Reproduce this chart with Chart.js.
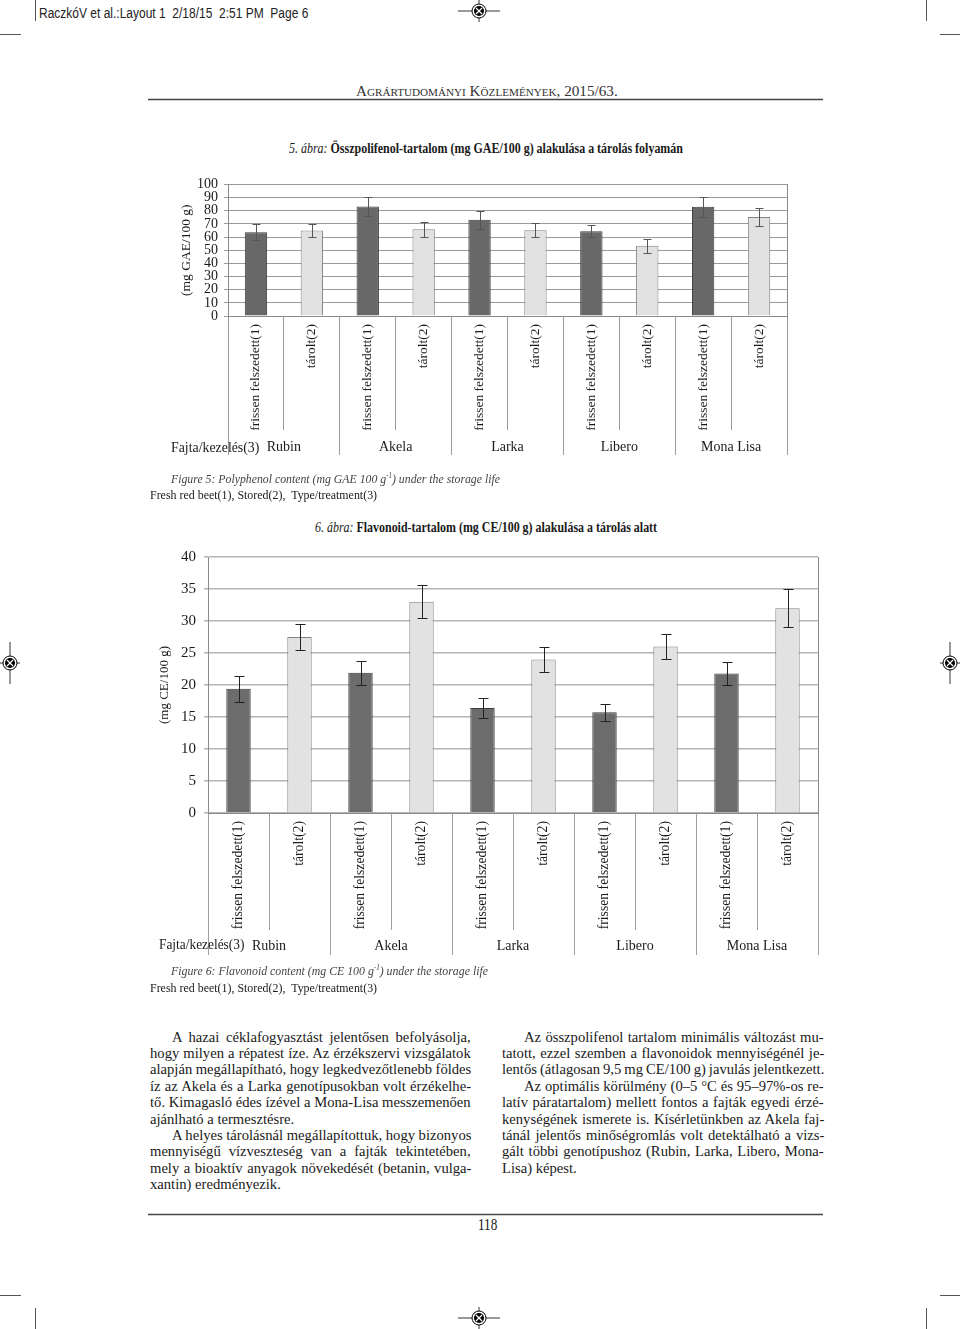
<!DOCTYPE html>
<html><head><meta charset="utf-8">
<script src="https://cdn.jsdelivr.net/npm/chart.js@4.4.0/dist/chart.umd.min.js"></script>
<style>
html,body{margin:0;padding:0;background:#fff;}
body{width:960px;height:1329px;position:relative;overflow:hidden;font-family:'Liberation Serif','Times New Roman',serif;color:#1a1a1a;}
.t{position:absolute;white-space:pre;line-height:1;transform-origin:0 50%;display:inline-block;}
.cv{position:absolute;}
svg{position:absolute;left:0;top:0;}
</style></head><body>
<svg width="960" height="1329" viewBox="0 0 960 1329" id="marks"></svg>
<canvas id="c1" class="cv" width="650" height="290" style="left:150px;top:170px"></canvas>
<canvas id="c2" class="cv" width="690" height="420" style="left:140px;top:540px"></canvas>
<script>
// ---------------- DATA ----------------
const varieties = ['Rubin', 'Akela', 'Larka', 'Libero', 'Mona Lisa'];
const treatments = ['frissen felszedett(1)', 'tárolt(2)'];
// Figure 5: polyphenol (mg GAE/100 g), order: Rubin fresh, Rubin stored, Akela fresh, ...
const polyphenolMean = [63.7, 64.9, 83.2, 65.9, 73.1, 65.2, 64.4, 53.3, 83.0, 75.3];
const polyphenolErr  = [5.9, 5.0, 7.2, 5.6, 6.8, 5.2, 4.5, 5.1, 7.8, 7.0];
const polyphenolTicks = [0, 10, 20, 30, 40, 50, 60, 70, 80, 90, 100];
// Figure 6: flavonoid (mg CE/100 g)
const flavonoidMean = [19.4, 27.5, 21.9, 33.0, 16.4, 24.0, 15.75, 26.0, 21.8, 32.0];
const flavonoidErr  = [2.0, 2.05, 1.9, 2.6, 1.5, 2.0, 1.35, 1.95, 1.85, 3.0];
const flavonoidTicks = [0, 5, 10, 15, 20, 25, 30, 35, 40];

// ---------------- marks / rules ----------------
(function(){
  const s = document.getElementById('marks');
  let h = '';
  const ln = (x1,y1,x2,y2,c,w)=>{h += `<line x1="${x1}" y1="${y1}" x2="${x2}" y2="${y2}" stroke="${c||'#000'}" stroke-width="${w||1}"/>`;};
  ln(35.5,0,35.5,21,'#555'); ln(0,34.5,21,34.5,'#555');
  ln(926.5,0,926.5,21,'#555'); ln(940,34.5,960,34.5,'#555');
  ln(35.5,1308,35.5,1329,'#555'); ln(0,1295.5,21,1295.5,'#555');
  ln(926.5,1308,926.5,1329,'#555'); ln(940,1295.5,960,1295.5,'#555');
  ln(148,99.5,823,99.5,'#444',1.5);
  ln(148,1214.5,823,1214.5,'#444',1.5);
  const reg = (cx,cy,hl,vl)=>{
    ln(cx-hl,cy,cx+hl,cy,'#000',0.8); ln(cx,cy-vl,cx,cy+vl,'#000',0.8);
    h += `<circle cx="${cx}" cy="${cy}" r="7" fill="#fff" stroke="#000" stroke-width="1"/>`;
    h += `<circle cx="${cx}" cy="${cy}" r="5" fill="#000"/>`;
    h += `<line x1="${cx-3}" y1="${cy-3}" x2="${cx+3}" y2="${cy+3}" stroke="#fff" stroke-width="1.2"/>`;
    h += `<line x1="${cx-3}" y1="${cy+3}" x2="${cx+3}" y2="${cy-3}" stroke="#fff" stroke-width="1.2"/>`;
  };
  reg(479,11,21,11); reg(479,1318,21,11); reg(10,663,10,21); reg(950,663,10,21);
  s.innerHTML = h;
})();

// ---------------- page texts ----------------
function addText(o){
  const e = document.createElement('span');
  e.className = 't';
  e.innerHTML = o.h;
  e.style.fontSize = (o.size||14)+'px';
  if (o.sans) e.style.fontFamily = "'Liberation Sans',Arial,sans-serif";
  if (o.sc) e.style.fontVariant = 'small-caps';
  if (o.color) e.style.color = o.color;
  document.body.appendChild(e);
  e.style.left = o.x1+'px';
  const hgt = e.offsetHeight;
  e.style.top = (o.y - hgt/2)+'px';
  const w = e.offsetWidth;
  e.style.transform = 'scaleX('+((o.x2-o.x1)/w)+')';
}
const texts = [
  {h:'RaczkóV et al.:Layout 1  2/18/15  2:51 PM  Page 6', x1:39, x2:308, y:13, size:14, sans:true, color:'#222'},
  {h:'Agrártudományi Közlemények, 2015/63.', x1:356, x2:618, y:91, size:15, sc:true, color:'#333'},
  {h:'<i>5. ábra:</i> <b>Összpolifenol-tartalom (mg GAE/100 g) alakulása a tárolás folyamán</b>', x1:289, x2:683, y:149, size:14},
  {h:'Fajta/kezelés(3)', x1:171, x2:259, y:448, size:14},
  {h:'<i>Figure 5: Polyphenol content (mg GAE 100 g<sup style="font-size:8px">-1</sup>) under the storage life</i>', x1:171, x2:500, y:478, size:13.5, color:'#444'},
  {h:'Fresh red beet(1), Stored(2),  Type/treatment(3)', x1:150, x2:377, y:495, size:13.5},
  {h:'<i>6. ábra:</i> <b>Flavonoid-tartalom (mg CE/100 g) alakulása a tárolás alatt</b>', x1:315, x2:657, y:528, size:14},
  {h:'Fajta/kezelés(3)', x1:159, x2:244, y:945, size:14},
  {h:'<i>Figure 6: Flavonoid content (mg CE 100 g<sup style="font-size:8px">-1</sup>) under the storage life</i>', x1:171, x2:488, y:970, size:13.5, color:'#444'},
  {h:'Fresh red beet(1), Stored(2),  Type/treatment(3)', x1:150, x2:377, y:988, size:13.5},
  {h:'118', x1:478, x2:497, y:1225, size:16},
];
texts.forEach(addText);

// body text: [text, indent, justify]
const bodyLeft = [
  ['A hazai céklafogyasztást jelentősen befolyásolja,',1,1],
  ['hogy milyen a répatest íze. Az érzékszervi vizsgálatok',0,1],
  ['alapján megállapítható, hogy legkedvezőtlenebb földes',0,1],
  ['íz az Akela és a Larka genotípusokban volt érzékelhe-',0,1],
  ['tő. Kimagasló édes ízével a Mona-Lisa messzemenően',0,1],
  ['ajánlható a termesztésre.',0,0],
  ['A helyes tárolásnál megállapítottuk, hogy bizonyos',1,1],
  ['mennyiségű vízveszteség van a fajták tekintetében,',0,1],
  ['mely a bioaktív anyagok növekedését (betanin, vulga-',0,1],
  ['xantin) eredményezik.',0,0],
];
const bodyRight = [
  ['Az összpolifenol tartalom minimális változást mu-',1,1],
  ['tatott, ezzel szemben a flavonoidok mennyiségénél je-',0,1],
  ['lentős (átlagosan 9,5 mg CE/100 g) javulás jelentkezett.',0,1],
  ['Az optimális körülmény (0–5 °C és 95–97%-os re-',1,1],
  ['latív páratartalom) mellett fontos a fajták egyedi érzé-',0,1],
  ['kenységének ismerete is. Kísérletünkben az Akela faj-',0,1],
  ['tánál jelentős minőségromlás volt detektálható a vizs-',0,1],
  ['gált többi genotípushoz (Rubin, Larka, Libero, Mona-',0,1],
  ['Lisa) képest.',0,0],
];
(function(){
  const cols = [{lines:bodyLeft, x1:150, x2:471}, {lines:bodyRight, x1:502, x2:824}];
  const items = [];
  cols.forEach(c=>c.lines.forEach((l,i)=>{
    const e = document.createElement('span');
    e.className='t'; e.textContent=l[0]; e.style.fontSize='15px';
    document.body.appendChild(e);
    const x1 = c.x1 + (l[1]?22:0);
    const y = 1037 + i*16.4;
    e.style.left = x1+'px';
    e.style.top = (y - e.offsetHeight/2)+'px';
    items.push({e, x1, x2:c.x2, just:l[2], w:e.offsetWidth, n:(l[0].match(/ /g)||[]).length});
  }));
  let tt=0, nn=0;
  items.forEach(it=>{ if(it.just){ tt += it.x2-it.x1; nn += it.w; } });
  const S = tt/nn*0.985;
  items.forEach(it=>{
    it.e.style.transform='scaleX('+S+')';
    if (it.just && it.n>0){
      const ws = ((it.x2-it.x1)/S - it.w)/it.n;
      it.e.style.wordSpacing = ws+'px';
    }
  });
})();

// ---------------- charts ----------------
Chart.defaults.font.family = "'Liberation Serif','Times New Roman',serif";
Chart.defaults.color = '#1a1a1a';
Chart.defaults.animation = false;

const categoryLabels = [];
varieties.forEach(v => treatments.forEach(t => categoryLabels.push(t)));
const freshOrStored = [];
varieties.forEach(v => treatments.forEach((t,j) => freshOrStored.push(j)));

const errorBars = {
  id: 'errorBars',
  afterDatasetsDraw(chart, args, opts) {
    const ctx = chart.ctx, ys = chart.scales.y;
    const meta = chart.getDatasetMeta(0);
    const data = chart.data.datasets[0].data;
    ctx.save();
    ctx.strokeStyle = opts.color; ctx.lineWidth = 1;
    meta.data.forEach((bar, i) => {
      const m = data[i], e = opts.errors[i];
      const x = Math.round(bar.x) + 0.5;
      const yt = Math.round(ys.getPixelForValue(m + e)) + 0.5;
      const yb = Math.round(ys.getPixelForValue(m - e)) + 0.5;
      ctx.beginPath();
      ctx.moveTo(x, yt); ctx.lineTo(x, yb);
      ctx.moveTo(x - opts.cap, yt); ctx.lineTo(x + opts.cap, yt);
      ctx.moveTo(x - opts.cap, yb); ctx.lineTo(x + opts.cap, yb);
      ctx.stroke();
    });
    ctx.restore();
  }
};

function makeChart(id, mean, err, ticks, c) {
  return new Chart(document.getElementById(id), {
    type: 'bar',
    data: {
      labels: categoryLabels,
      datasets: [{
        data: mean,
        backgroundColor: freshOrStored.map(k => k ? c.stored : c.fresh),
        borderColor: freshOrStored.map(k => k ? c.storedBorder : c.freshBorder),
        borderWidth: 1,
        barPercentage: 0.4,
        categoryPercentage: 1
      }]
    },
    options: {
      responsive: false,
      animation: false,
      events: [],
      layout: { padding: c.pad },
      plugins: {
        legend: { display: false },
        tooltip: { enabled: false },
        errorBars: { errors: err, color: c.errColor, cap: c.cap }
      },
      scales: {
        x: {
          type: 'category',
          position: 'bottom',
          weight: 0,
          offset: true,
          grid: { offset: true, drawOnChartArea: false, drawTicks: true, tickLength: c.xHeight, color: c.sepColor, lineWidth: 1 },
          border: { display: true, color: c.axisColor, width: 1 },
          ticks: { minRotation: 90, maxRotation: 90, autoSkip: false, padding: c.xPad, font: { size: c.xFont }, color: '#1a1a1a' },
          afterFit: s => { s.height = c.xHeight; }
        },
        xg: {
          type: 'category',
          position: 'bottom',
          weight: 1,
          labels: varieties,
          offset: true,
          grid: { offset: true, drawOnChartArea: false, drawTicks: true, tickLength: c.gHeight, color: c.sepColor, lineWidth: 1 },
          border: { display: false },
          ticks: { autoSkip: false, maxRotation: 0, padding: c.gPad, font: { size: 14 }, color: '#1a1a1a' },
          afterFit: s => { s.height = c.gHeight; }
        },
        y: {
          type: 'linear',
          position: 'left',
          min: ticks[0],
          max: ticks[ticks.length - 1],
          afterBuildTicks: s => { s.ticks = ticks.map(v => ({ value: v })); },
          grid: { color: c.gridColor, lineWidth: c.gridWidth, drawTicks: true, tickLength: 4 },
          border: { display: true, color: c.axisColor, width: 1 },
          ticks: { autoSkip: false, padding: c.tickPad, font: { size: c.tickFont }, color: '#1a1a1a' },
          title: { display: true, text: c.title, font: { size: c.titleFont }, color: '#1a1a1a', padding: { top: c.titlePad, bottom: 0 } },
          afterFit: s => { s.width = c.yWidth; }
        },
        yr: {
          type: 'linear',
          position: 'right',
          min: ticks[0],
          max: ticks[ticks.length - 1],
          ticks: { display: false },
          grid: { display: false, drawTicks: false },
          border: { display: true, color: c.axisColor, width: 1 },
          afterFit: s => { s.width = 0; }
        }
      }
    },
    plugins: [errorBars]
  });
}

makeChart('c1', polyphenolMean, polyphenolErr, polyphenolTicks, {
  pad: { left: 0, top: 11, right: 13, bottom: 5 },
  fresh: '#686868', freshBorder: '#3c3c3c', stored: '#e1e1e1', storedBorder: '#858585',
  errColor: '#555', cap: 4,
  xHeight: 114, xPad: -106, xFont: 13.5,
  gHeight: 25, gPad: -16.4,
  sepColor: '#9a9a9a', axisColor: '#8a8a8a', gridColor: '#9a9a9a', gridWidth: 1,
  tickPad: 6, tickFont: 14,
  title: '(mg GAE/100 g)', titleFont: 13.5, titlePad: 28, yWidth: 78
});

makeChart('c2', flavonoidMean, flavonoidErr, flavonoidTicks, {
  pad: { left: 0, top: 15, right: 12, bottom: 5 },
  fresh: '#6c6c6c', freshBorder: '#3a3a3a', stored: '#e2e2e2', storedBorder: '#808080',
  errColor: '#222', cap: 5,
  xHeight: 117, xPad: -109, xFont: 13.7,
  gHeight: 25, gPad: -17.4,
  sepColor: '#a0a0a0', axisColor: '#8a8a8a', gridColor: '#b5b5b5', gridWidth: 1.5,
  tickPad: 8, tickFont: 15,
  title: '(mg CE/100 g)', titleFont: 13, titlePad: 17, yWidth: 68
});
</script>
</body></html>
